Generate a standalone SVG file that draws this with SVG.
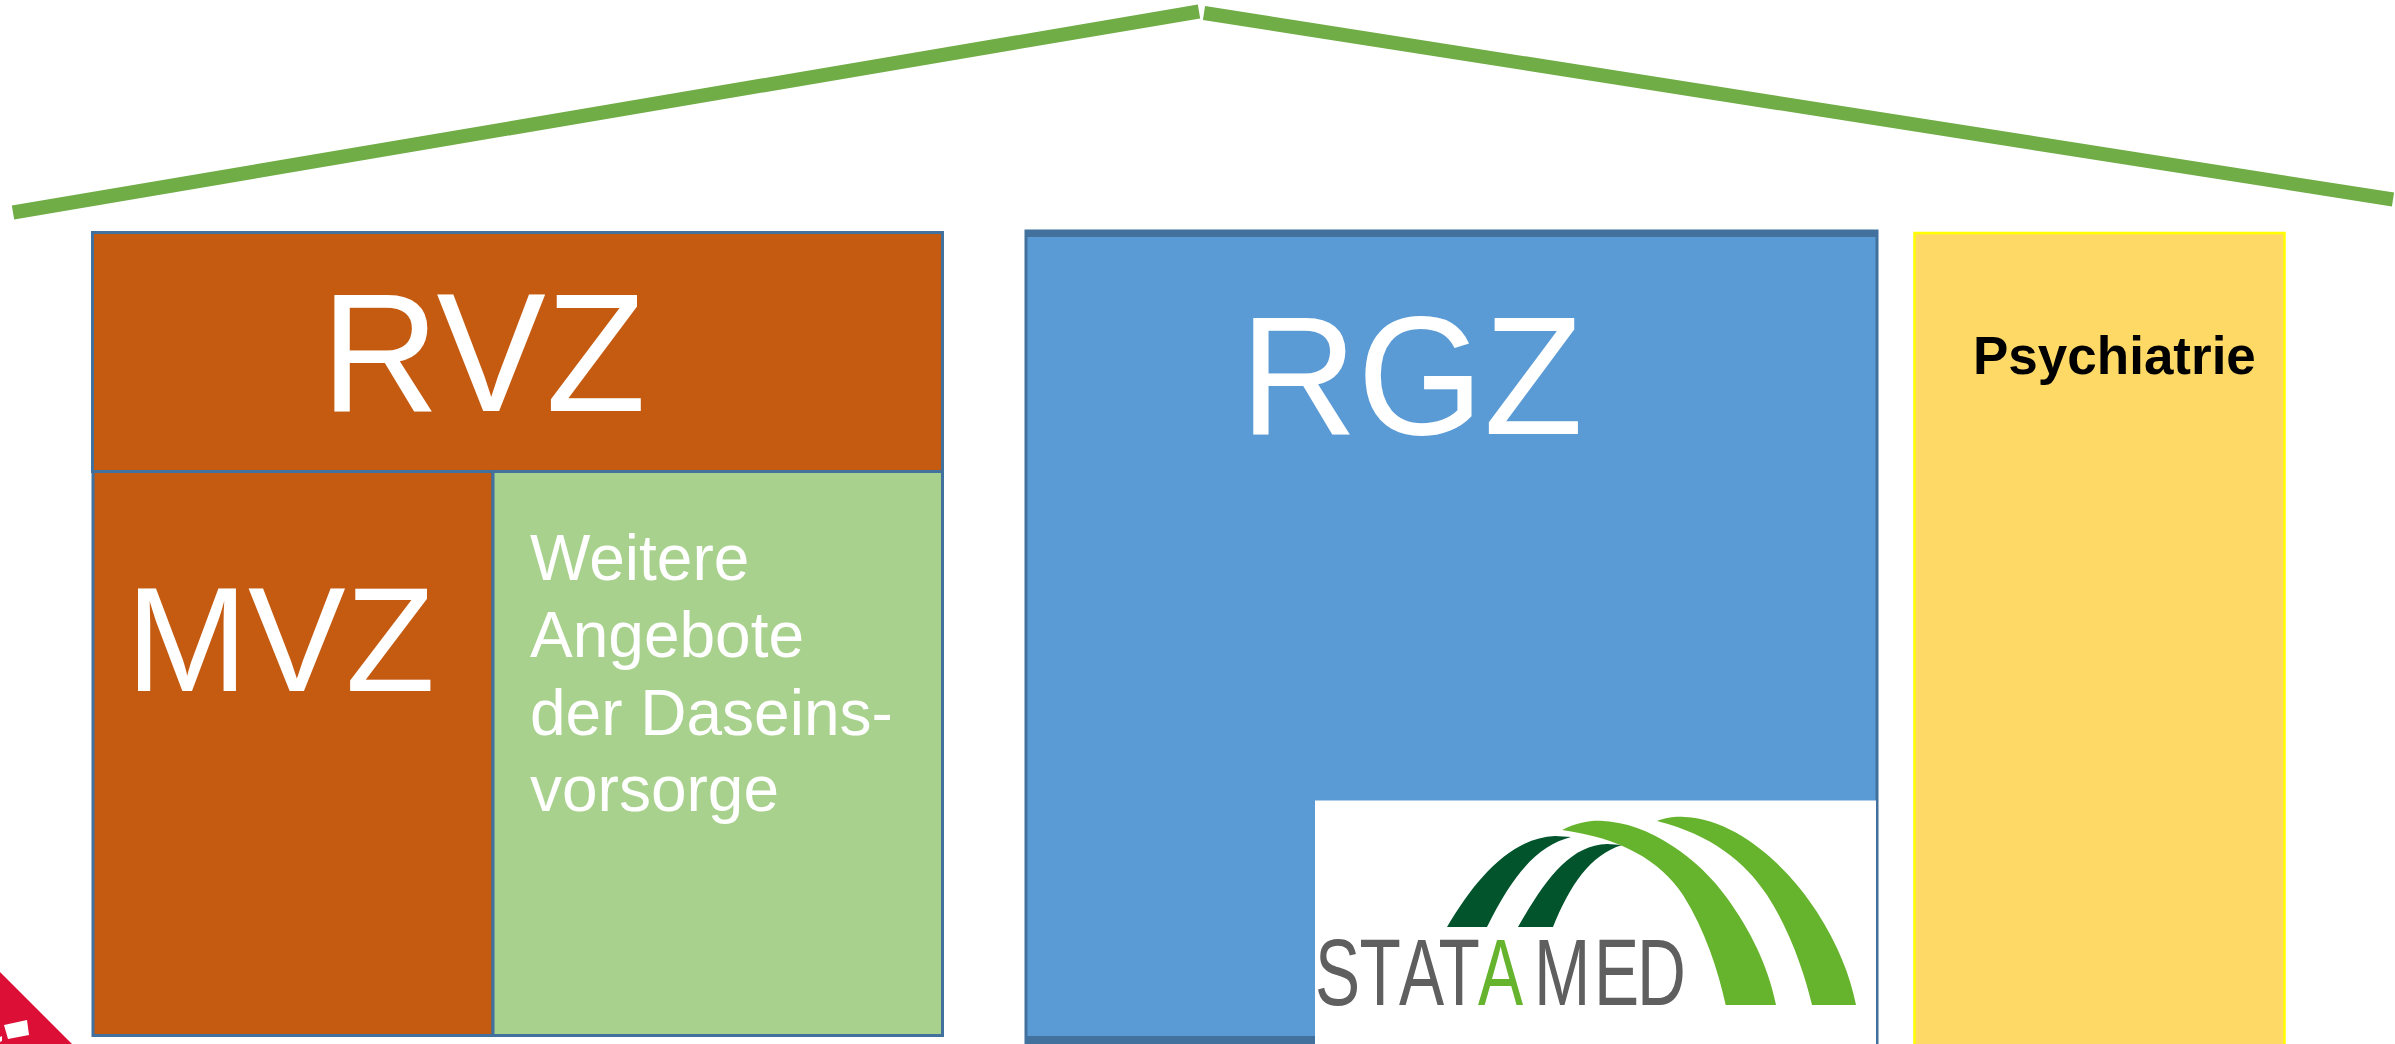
<svg xmlns="http://www.w3.org/2000/svg" width="2395" height="1044" viewBox="0 0 2395 1044">
<style>
text{font-family:"Liberation Sans",Arial,sans-serif;fill:#fff}
.box{stroke:#41719C;stroke-width:3}
.roof{stroke:#70AD47;stroke-width:14;fill:none}
.dark{fill:#02542D}
.light{fill:#66B32E}
</style>
<rect width="2395" height="1044" fill="#fff"/>
<g id="roof">
<line class="roof" x1="13" y1="212.500" x2="1199" y2="11.500"/>
<line class="roof" x1="1204" y1="13" x2="2393" y2="199.500"/>
</g>
<g id="rvz"><rect class="box" x="92.500" y="232.500" width="850" height="239" fill="#C55A11"/>
<text x="321" y="411" font-size="168" textLength="325" lengthAdjust="spacingAndGlyphs">RVZ</text></g>
<g id="mvz"><rect class="box" x="93" y="471.500" width="400" height="564" fill="#C55A11"/>
<text x="126" y="691" font-size="149" textLength="309" lengthAdjust="spacingAndGlyphs">MVZ</text></g>
<g id="weitere"><rect class="box" x="493" y="471.500" width="449.500" height="564" fill="#A9D18E"/>
<text font-size="64"><tspan x="530" y="580">Weitere</tspan><tspan x="530" y="657">Angebote</tspan><tspan x="530" y="735">der Daseins-</tspan><tspan x="530" y="811">vorsorge</tspan></text></g>
<g id="rgz"><rect x="1026" y="231" width="851" height="820" fill="#5B9BD5" class="box"/>
<rect x="1026" y="231" width="852" height="6" fill="#41719C"/>
<rect x="1026" y="1036" width="289" height="8" fill="#41719C"/>
<text x="1240" y="434" font-size="168" textLength="343" lengthAdjust="spacingAndGlyphs">RGZ</text></g>
<g id="statamed"><rect x="1315" y="800.500" width="561" height="243.500" fill="#fff"/>
<path class="dark" d="M1447 927C1475 880 1510 838 1555 836L1571 837C1540 845 1515 870 1487 927Z"/>
<path class="dark" d="M1518 927C1545 880 1570 845 1607 844L1622 845C1590 855 1570 885 1553 927Z"/>
<path class="light" d="M1562 830C1575 823 1588 820.500 1600 820.700C1650 822 1700 860 1727 898C1750 930 1768 965 1776 1005H1725.700C1718 970 1705 930 1683 895C1660 860 1620 838 1562 830Z"/>
<path class="light" d="M1657 821C1668 817 1675 816.500 1685 817C1740 820 1790 870 1817 912C1838 945 1850 975 1856 1005H1812C1805 975 1790 930 1767 895C1745 862 1712 835 1657 821Z"/>
<text transform="scale(.72 1)" x="1826.400 1888.200 1943 1997.900" y="1005" font-size="94" style="fill:#5F5F5F">STAT<tspan x="2052.800" style="fill:#66B32E">A</tspan><tspan x="2130.500 2213.900 2273.600">MED</tspan></text></g>
<g id="psychiatrie"><rect x="1914.500" y="233" width="370" height="820" fill="#FFD966" stroke="#FFFF00" stroke-width="2.500"/>
<text x="1973" y="374" font-size="53" font-weight="700" style="fill:#000">Psychiatrie</text></g>
<g id="corner"><path d="M0 972L72 1044H0Z" fill="#DC0F37"/>
<path d="M4 1025L27 1020L29 1035L8 1039Z" fill="#fff"/><path d="M0 1037L2 1036L2 1041L0 1042Z" fill="#fff"/></g>
</svg>
